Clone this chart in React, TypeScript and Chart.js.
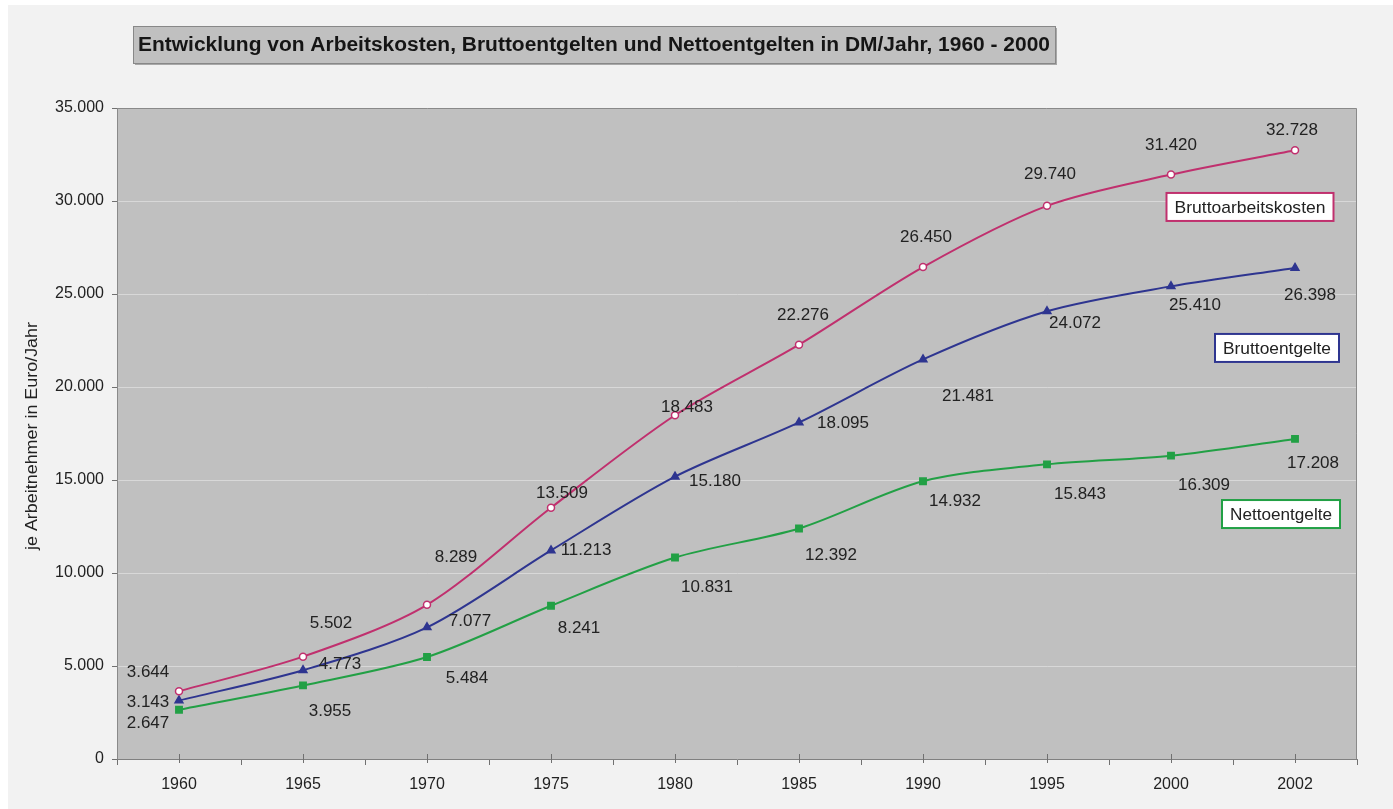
import React, { useEffect, useRef } from "react";
import { Chart, registerables } from "chart.js";

Chart.register(...registerables);

const years = ["1960", "1965", "1970", "1975", "1980", "1985", "1990", "1995", "2000", "2002"];
const bruttoarbeitskosten = [3644, 5502, 8289, 13509, 18483, 22276, 26450, 29740, 31420, 32728];
const bruttoentgelte = [3143, 4773, 7077, 11213, 15180, 18095, 21481, 24072, 25410, 26398];
const nettoentgelte = [2647, 3955, 5484, 8241, 10831, 12392, 14932, 15843, 16309, 17208];
const seriesNames = ["Bruttoarbeitskosten", "Bruttoentgelte", "Nettoentgelte"];
const yTicks = [0, 5000, 10000, 15000, 20000, 25000, 30000, 35000];
const titleText = "Entwicklung von Arbeitskosten, Bruttoentgelten und Nettoentgelten in DM/Jahr, 1960 - 2000";
const yTitle = "je Arbeitnehmer in Euro/Jahr";

// label offsets (pixels, label centre relative to point)
const labelOffsets: [number, number][][] = [
  [[-31, -19], [28, -33], [29, -48], [11, -14], [12, -8], [4, -29], [3, -30], [3, -32], [0, -29], [-3, -20]],
  [[-31, 2], [37, -6], [43, -6], [35, 0], [40, 5], [44, 1], [45, 37], [28, 12], [24, 19], [15, 27]],
  [[-31, 14], [27, 26], [40, 21], [28, 23], [32, 30], [32, 27], [32, 20], [33, 30], [33, 30], [18, 24]],
];
// series name boxes: centre offset from last point x, value-level y, width
const nameBoxes = [
  { dx: -45, yVal: 29680, w: 167 },
  { dx: -18, yVal: 22100, w: 124 },
  { dx: -14, yVal: 13170, w: 118 },
];

const colors = ["#c0306e", "#2e3590", "#22a045"];
const FONT = "'Liberation Sans', Arial, sans-serif";

function fmt(v: number): string {
  return String(Math.round(v)).replace(/\B(?=(\d{3})+(?!\d))/g, ".");
}

function fitText(ctx: CanvasRenderingContext2D, text: string, x: number, y: number, target: number) {
  const tw = ctx.measureText(text).width;
  ctx.save();
  ctx.translate(x, y);
  ctx.scale(target / tw, 1);
  ctx.fillText(text, 0, 0);
  ctx.restore();
}

const decorPlugin = {
  id: "decor",
  beforeDraw(chart: any) {
    const { ctx, chartArea: a, width, height } = chart;
    ctx.save();
    ctx.fillStyle = "#f2f2f2";
    ctx.fillRect(0, 0, width, height);
    ctx.fillStyle = "#c0c0c0";
    ctx.fillRect(a.left, a.top, a.right - a.left, a.bottom - a.top);
    // title box
    const bx = 125, by = 21, bw = 922, bh = 37;
    ctx.fillStyle = "#a8a8a8";
    ctx.fillRect(bx + 2, by + 2, bw, bh);
    ctx.fillStyle = "#c0c0c0";
    ctx.fillRect(bx, by, bw, bh);
    ctx.strokeStyle = "#888";
    ctx.lineWidth = 1;
    ctx.strokeRect(bx + 0.5, by + 0.5, bw, bh);
    ctx.fillStyle = "#151515";
    ctx.font = `bold 20px ${FONT}`;
    ctx.textAlign = "center";
    ctx.textBaseline = "middle";
    fitText(ctx, titleText, bx + bw / 2, by + bh / 2 + 1, 912);
    // y title
    ctx.save();
    ctx.translate(25, 431);
    ctx.rotate(-Math.PI / 2);
    ctx.font = `16px ${FONT}`;
    ctx.fillStyle = "#222";
    fitText(ctx, yTitle, 0, 0, 228);
    ctx.restore();
    ctx.restore();
  },
  beforeDatasetsDraw(chart: any) {
    const { ctx, chartArea: a, scales } = chart;
    ctx.save();
    ctx.strokeStyle = "#8a8a8a";
    ctx.lineWidth = 1;
    ctx.beginPath();
    ctx.moveTo(a.left + 0.5, a.bottom);
    ctx.lineTo(a.left + 0.5, a.top + 0.5);
    ctx.lineTo(a.right - 0.5, a.top + 0.5);
    ctx.lineTo(a.right - 0.5, a.bottom);
    ctx.stroke();
    // centre ticks on x axis
    const xs = scales.x;
    ctx.strokeStyle = "#707070";
    for (let i = 0; i < years.length; i++) {
      const x = Math.round(xs.getPixelForValue(i)) + 0.5;
      ctx.beginPath();
      ctx.moveTo(x, a.bottom - 5);
      ctx.lineTo(x, a.bottom + 4);
      ctx.stroke();
    }
    ctx.restore();
  },
  afterDatasetsDraw(chart: any) {
    const { ctx, scales } = chart;
    ctx.save();
    ctx.font = `17px ${FONT}`;
    ctx.fillStyle = "#222";
    ctx.textAlign = "center";
    ctx.textBaseline = "middle";
    chart.data.datasets.forEach((ds: any, di: number) => {
      const meta = chart.getDatasetMeta(di);
      meta.data.forEach((pt: any, i: number) => {
        const [dx, dy] = labelOffsets[di][i];
        ctx.fillText(fmt(ds.data[i]), pt.x + dx, pt.y + dy);
      });
    });
    // name boxes
    const lastX = scales.x.getPixelForValue(years.length - 1);
    nameBoxes.forEach((b, i) => {
      const cx = lastX + b.dx;
      const cy = scales.y.getPixelForValue(b.yVal);
      const h = 28;
      ctx.fillStyle = "#ffffff";
      ctx.fillRect(cx - b.w / 2, cy - h / 2, b.w, h);
      ctx.strokeStyle = colors[i];
      ctx.lineWidth = 2;
      ctx.strokeRect(cx - b.w / 2, cy - h / 2, b.w, h);
      ctx.fillStyle = "#222";
      ctx.font = `17px ${FONT}`;
      fitText(ctx, seriesNames[i], cx, cy + 1, b.w - 16);
    });
    ctx.restore();
  },
};

export default function App() {
  const ref = useRef<HTMLCanvasElement>(null);
  useEffect(() => {
    if (!ref.current) return;
    const mk = (label: string, data: number[], color: string, style: string, radius: number, fill: string) => ({
      label,
      data,
      borderColor: color,
      backgroundColor: fill,
      pointBorderColor: color,
      pointBackgroundColor: fill,
      pointStyle: style,
      pointRadius: radius,
      pointBorderWidth: 1.5,
      borderWidth: 2,
      tension: 0.3,
    });
    const chart = new Chart(ref.current, {
      type: "line",
      data: {
        labels: years,
        datasets: [
          mk(seriesNames[0], bruttoarbeitskosten, colors[0], "circle", 3.5, "#ffffff"),
          mk(seriesNames[1], bruttoentgelte, colors[1], "triangle", 4.5, colors[1]),
          mk(seriesNames[2], nettoentgelte, colors[2], "rect", 4.5, colors[2]),
        ],
      },
      options: {
        responsive: false,
        animation: false,
        layout: { padding: { left: 0, right: 36, top: 103, bottom: 0 } },
        plugins: { legend: { display: false }, tooltip: { enabled: false } },
        scales: {
          x: {
            offset: true,
            grid: { display: true, drawOnChartArea: false, offset: true, tickLength: 6, tickColor: "#707070", color: "#707070" },
            border: { color: "#808080" },
            ticks: { font: { size: 16, family: FONT }, color: "#222", padding: 10, maxRotation: 0 },
            afterFit(s: any) { s.height = 50; },
          },
          y: {
            min: 0,
            max: 35000,
            afterBuildTicks(s: any) { s.ticks = yTicks.map((v) => ({ value: v })); },
            grid: { color: "#d8d8d8", tickColor: "#707070", tickLength: 5 },
            border: { color: "#808080" },
            ticks: { font: { size: 16, family: FONT }, color: "#222", padding: 8, callback: (v: any) => fmt(Number(v)) },
            afterFit(s: any) { s.width = 109; },
          },
        },
      },
      plugins: [decorPlugin],
    } as any);
    return () => chart.destroy();
  }, []);
  return (
    <div style={{ position: "fixed", left: 8, top: 5, width: 1385, height: 804, background: "#f2f2f2" }}>
      <canvas ref={ref} width={1385} height={804} style={{ display: "block" }} />
    </div>
  );
}
